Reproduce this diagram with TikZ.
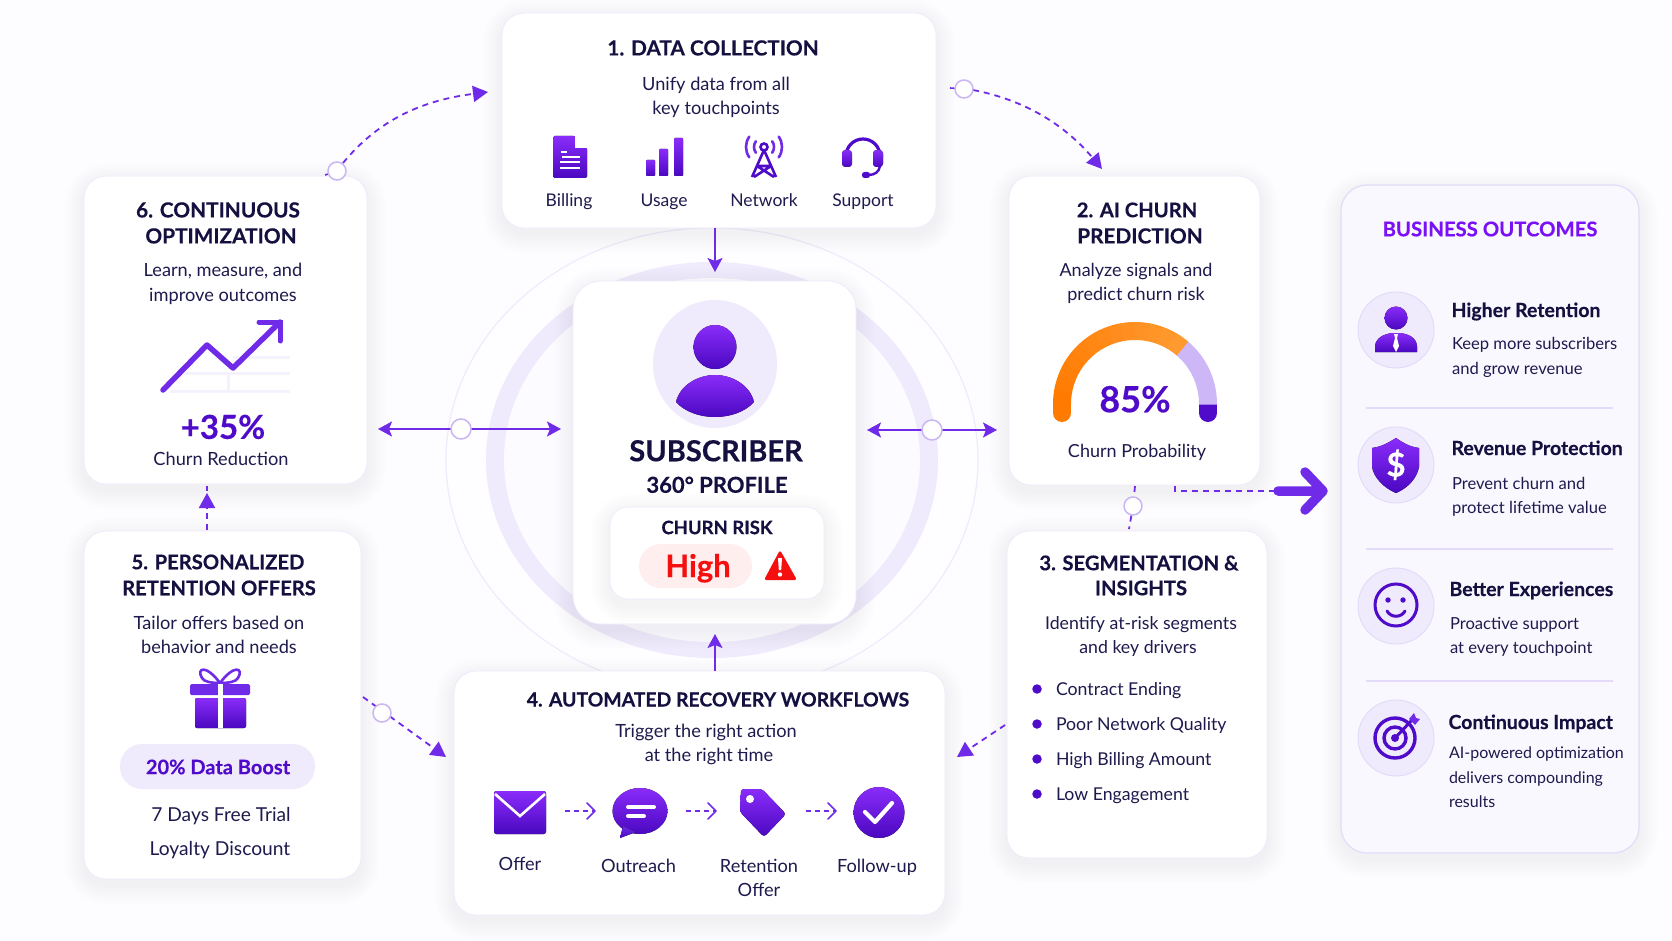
\documentclass[tikz,border=0pt]{standalone}
\usepackage{fontspec}
\setmainfont{Lato}[BoldFeatures={FakeBold=0.35}]
\usetikzlibrary{arrows.meta}
\definecolor{ink}{HTML}{14103F}
\definecolor{inkb}{HTML}{1E1A4E}
\definecolor{vio}{HTML}{6F2BE8}
\definecolor{deep}{HTML}{4F0BC9}
\definecolor{gtop}{HTML}{8A2CFA}
\definecolor{gbot}{HTML}{4A08C0}
\definecolor{lav}{HTML}{F0EBFC}
\definecolor{lavb}{HTML}{E3DBF9}
\definecolor{ringc}{HTML}{C9B6F2}
\definecolor{shad}{HTML}{4A30A8}
\definecolor{oraA}{HTML}{FF7A00}
\definecolor{oraB}{HTML}{FF9C33}
\definecolor{redc}{HTML}{F50F0F}
\definecolor{lavp}{HTML}{FAF8FF}
\definecolor{outc}{HTML}{7A10F5}
\newcounter{tc}
\newcommand\tx[4][]{\stepcounter{tc}\node[txt,#1] (t\arabic{tc}) at (#2,#3) {#4};}
\newcommand\softshadow[5]{\foreach \i in {1,...,12}{\fill[shad,opacity=.005,rounded corners=#5pt+\i*1.6pt] (#1-\i*1.6,#2-\i*1.6+6) rectangle (#3+\i*1.6,#4+\i*1.6+6);}}
\newcommand\cardbox[7][card]{\softshadow{#3}{#4}{#5}{#6}{#7}\node[#1,rounded corners=#7pt,minimum width={(#5-#3)*1pt},minimum height={(#6-#4)*1pt}] (#2) at ({(#3+#5)/2},{(#4+#6)/2}) {};}
\tikzset{
 txt/.style={inner sep=0pt,outer sep=0pt,text depth=0pt,text=inkb},
 ttl/.style={font=\bfseries\fontsize{20.2}{24}\selectfont,text height=14.5pt,text=ink},
 ttlb/.style={font=\bfseries\fontsize{20.8}{24}\selectfont,text height=14.9pt,text=ink},
 ttls/.style={font=\bfseries\fontsize{19.4}{24}\selectfont,text height=14pt,text=ink},
 bdy/.style={font=\fontsize{18.2}{22}\selectfont,text height=13.1pt},
 lst/.style={font=\fontsize{17.7}{22}\selectfont,text height=12.7pt},
 big/.style={font=\fontsize{19.2}{22}\selectfont,text height=13.8pt},
 sml/.style={font=\fontsize{17.5}{22}\selectfont,text height=12.6pt},
 lbl/.style={font=\fontsize{18.2}{22}\selectfont,text height=13.1pt},
 pan/.style={font=\fontsize{16.6}{22}\selectfont,text height=12pt},
 hd/.style={font=\bfseries\fontsize{19.5}{22}\selectfont,text height=14pt,text=ink},
 card/.style={draw=lav,line width=.8pt,fill=white,inner sep=0pt,outer sep=0pt},
 panel/.style={draw=lavb,line width=1.2pt,fill=lavp,inner sep=0pt,outer sep=0pt},
 hub/.style={circle,draw=ringc,line width=1.5pt,fill=white,inner sep=0pt,minimum size=18pt},
 solidarr/.style={draw=vio,line width=1.8pt},
 dasharr/.style={draw=vio,line width=1.8pt,dash pattern=on 6pt off 5pt},
 ghead/.style={top color=gtop,bottom color=gbot,draw=none},
 icobub/.style={circle,draw=lavb,line width=1pt,fill=lav,inner sep=0pt,minimum size=76pt},
}
\begin{document}
\begin{tikzpicture}[x=1pt,y=-1pt,
 stl/.tip={Stealth[length=14pt,width=15pt,inset=3pt]},
 tri/.tip={Triangle[length=15pt,width=16pt]}]
\useasboundingbox (0,0) rectangle (1672,941);
\fill[white!60!lavp] (0,0) rectangle (1672,941);
% rings
\draw[lav,line width=1.2pt,fill=white!70!lavp] (712,460) ellipse [x radius=266,y radius=232];
\fill[lav] (712,460) ellipse [x radius=226,y radius=198];
\fill[white!40!lavp] (712,460) ellipse [x radius=208,y radius=182];
% cards
\cardbox{c1}{502}{13}{936}{228}{22}
\cardbox{c6}{84}{176}{367}{484}{22}
\cardbox{c2}{1009}{176}{1260}{485}{22}
\cardbox{c5}{84}{531}{361}{879}{22}
\cardbox{c3}{1007}{531}{1267}{858}{22}
\cardbox{c4}{454}{671}{945}{915}{22}
\cardbox{cc}{573}{281}{856}{624}{28}
\cardbox[panel]{bo}{1341}{185}{1639}{853}{26}
% ---- connectors
\coordinate (a1s) at (715,228); \coordinate (a1e) at (715,272);
\draw[solidarr,-{stl}] (a1s) -- (a1e);
\coordinate (a4s) at (715,671); \coordinate (a4e) at (715,634);
\draw[solidarr,-{stl}] (a4s) -- (a4e);
\coordinate (lL) at (378,429); \coordinate (lR) at (561,429);
\draw[solidarr,{stl}-{stl}] (lL) -- (lR);
\node[hub,minimum size=20pt] (hl) at (461,429) {};
\coordinate (rL) at (867,430); \coordinate (rR) at (997,430);
\draw[solidarr,{stl}-{stl}] (rL) -- (rR);
\node[hub,minimum size=20pt] (hr) at (932,430) {};
% 6->1
\coordinate (a6s) at (343,163); \coordinate (a6e) at (488,92);
\coordinate (a6x) at (325,175);
\draw[dasharr,-{tri}] (a6s) .. controls (380,118) and (425,100) .. (a6e);
\node[hub] (h6) at (337,171) {};
\draw[vio,line width=1.6pt] (a6x) -- (h6);
% 1->2
\coordinate (a1a) at (973,90); \coordinate (a1b) at (1102,169); \coordinate (a1c) at (950,88);
\draw[dasharr,-{tri}] (a1a) .. controls (1025,100) and (1065,125) .. (a1b);
\node[hub] (h1) at (964,89) {};
\draw[vio,line width=1.6pt] (a1c) -- (h1);
% 2->3
\coordinate (a2s) at (1135,486); \coordinate (a2e) at (1129,529);
\node[hub] (h2) at (1133,506) {};
\draw[dasharr] (a2s) -- (h2);
\draw[dasharr] (h2) -- (a2e);
% 3->4
\coordinate (a3s) at (1005,725); \coordinate (a3e) at (957,757);
\draw[dasharr,-{tri}] (a3s) -- (a3e);
% 4<-5
\coordinate (a5s) at (363,697); \coordinate (a5e) at (446,757);
\draw[dasharr,-{tri}] (a5s) -- (a5e);
\node[hub] (h5) at (382,713) {};
% 5->6
\coordinate (a56s) at (207,530); \coordinate (a56e) at (207,493); \coordinate (a56x) at (207,486);
\draw[dasharr,-{tri}] (a56s) -- (a56e);
\draw[vio,line width=1.8pt] (a56x) -- +(0,5);
% 2 -> outcomes
\coordinate (a7s) at (1175,486); \coordinate (a7m) at (1278,491); \coordinate (a7e) at (1323,491);
\draw[dasharr] (a7s) |- (a7m);
\draw[vio,line width=9.5pt,line cap=round,line join=round] (a7m) -- (a7e) (1305,472) -- (a7e) -- (1305,510);
% ---- card 1
\tx[ttlb]{713}{48}{1. DATA COLLECTION}
\tx[bdy]{716}{83.5}{Unify data from all}
\tx[bdy]{716}{108}{key touchpoints}
% billing
\fill[ghead,rounded corners=1.5pt] (553,136) -- (575,136) -- (587,148) -- (587,178) -- (553,178) -- cycle;
\fill[white] (575,136) -- (575,146) .. controls (575,148) .. (577,148) -- (587,148) -- (587,146) -- (577,136) -- cycle;
\draw[white,line width=2pt] (561,152) -- (567,152) (562,157) -- (580,157) (560,162) -- (580,162) (560,168) -- (580,168);
% usage
\fill[ghead,rounded corners=1pt] (646,160) rectangle (655,176);
\fill[ghead,rounded corners=1pt] (659,149) rectangle (668,176);
\fill[ghead,rounded corners=1pt] (674,138) rectangle (683,176);
% network
\draw[deep,line width=2.6pt,line join=round] (764,150) -- (752,177) (764,150) -- (776,177) (757,166) -- (771,166) -- (754,177) (757,166) -- (774,177);
\draw[deep,line width=2.6pt] (764,147) circle[radius=3.5];
\begin{scope}[shift={(764,147)},y=1pt]
\draw[vio,line width=2.6pt,line cap=round] (-35:10) arc[start angle=-35,end angle=35,radius=10];
\draw[vio,line width=2.6pt,line cap=round] (145:10) arc[start angle=145,end angle=215,radius=10];
\draw[vio,line width=2.6pt,line cap=round] (-35:18) arc[start angle=-35,end angle=35,radius=18];
\draw[vio,line width=2.6pt,line cap=round] (145:18) arc[start angle=145,end angle=215,radius=18];
\end{scope}
% support
\begin{scope}[shift={(863,156)},y=1pt]
\draw[deep,line width=3.2pt] (-17,-2) -- (-17,0) arc[start angle=180,end angle=0,radius=17] -- (17,-2);
\end{scope}
\fill[ghead,rounded corners=3.5pt] (842,150) rectangle (852,167);
\fill[ghead,rounded corners=3.5pt] (873,150) rectangle (883,167);
\draw[deep,line width=2.4pt] (880,166) .. controls (879,172) and (875,175) .. (868,175);
\fill[deep,rounded corners=2.5pt] (862,172) rectangle (870,178);
\tx[sml]{569}{200.5}{Billing}
\tx[sml]{664}{200.5}{Usage}
\tx[sml]{764}{200.5}{Network}
\tx[sml]{863}{200.5}{Support}
% ---- card 6
\tx[ttlb]{218}{210}{6. CONTINUOUS}
\tx[ttlb]{221}{236}{OPTIMIZATION}
\tx[bdy]{223}{270}{Learn, measure, and}
\tx[bdy]{223}{295}{improve outcomes}
\draw[lav!70!white,line width=3pt] (233,357) -- (290,357) (183,373) -- (290,373) (170,391) -- (290,391) (228,373) -- (228,391);
\draw[vio,line width=5.5pt,line cap=round,line join=round] (163,390) -- (207,345) -- (233,368) -- (280,322);
\draw[vio,line width=5pt,line cap=round,line join=miter] (259,322) -- (280,322) -- (280,341);
\tx[font=\bfseries\fontsize{33}{38}\selectfont,text height=23.7pt,text=deep]{223}{427}{+35\%}
\tx[bdy]{221}{458.5}{Churn Reduction}
% ---- centre
\fill[lav] (715,364) ellipse [x radius=62,y radius=64];
\fill[ghead] (715,347) ellipse [x radius=21.5,y radius=22];
\fill[ghead] (676,402) .. controls (680,385) and (698,375) .. (715,375) .. controls (732,375) and (750,385) .. (754,402) .. controls (745,412) and (730,417) .. (715,417) .. controls (700,417) and (685,412) .. (676,402) -- cycle;
\tx[font=\bfseries\fontsize{29}{32}\selectfont,text height=20.5pt,text=ink]{716}{451}{SUBSCRIBER}
\tx[font=\bfseries\fontsize{22}{26}\selectfont,text height=15.6pt,text=ink]{717}{485}{360° PROFILE}
\cardbox{cr}{610}{507}{824}{599}{18}
\tx[font=\fontsize{18.5}{22}\selectfont,text height=13.3pt,text=ink]{717}{527.5}{\bfseries CHURN RISK}
\node[rounded corners=22pt,fill=redc!7,inner sep=0pt,minimum width=113pt,minimum height=44pt] (pl) at (695.5,566) {};
\tx[font=\bfseries\fontsize{31}{34}\selectfont,text height=22pt,text=redc]{698}{566}{High}
\fill[redc,rounded corners=2.5pt] (780,550) -- (797,580) -- (764,580) -- cycle;
\fill[white] (778,558) -- (782,558) -- (781.2,570) -- (778.8,570) -- cycle;
\fill[white] (780,574.5) circle[radius=2.2];
% ---- card 2
\tx[ttl]{1137}{210}{2. AI CHURN}
\tx[ttlb]{1140}{236}{PREDICTION}
\tx[font=\fontsize{18}{22}\selectfont,text height=13pt]{1136}{270}{Analyze signals and}
\tx[font=\fontsize{18}{22}\selectfont,text height=13pt]{1136}{294}{predict churn risk}
\begin{scope}[shift={(1135,404)},y=1pt]
\draw[oraA,line width=18pt,line cap=round] (-73,0) -- (-73,-9);
\draw[deep,line width=18pt,line cap=round] (73,0) -- (73,-9);
\draw[white!25!vio!45!white,line width=18pt] (50:73) arc[start angle=50,end angle=0,radius=73] -- (73,-.5);
\foreach \a in {180,170,...,60}{
 \pgfmathtruncatemacro\p{100-(180-\a)*100/130}
 \draw[oraA!\p!oraB,line width=18pt] (\a:73) arc[start angle=\a,end angle={\a-10.6},radius=73];}
\end{scope}
\tx[font=\bfseries\fontsize{36}{40}\selectfont,text height=25.5pt,text=deep]{1135}{399.5}{85\%}
\tx[font=\fontsize{18}{22}\selectfont,text height=13pt]{1137}{450.5}{Churn Probability}
% ---- card 3
\tx[ttl]{1139}{563}{3. SEGMENTATION \&}
\tx[ttl]{1141}{588}{INSIGHTS}
\tx[lst]{1141}{623}{Identify at-risk segments}
\tx[lst]{1138}{647}{and key drivers}
\foreach \yy/\nn in {689/b1,724/b2,759/b3,794/b4}{\node[circle,fill=deep,inner sep=0pt,minimum size=9.5pt] (\nn) at (1037,\yy) {};}
\tx[lst,anchor=west]{1056}{689.5}{Contract Ending}
\tx[lst,anchor=west]{1056}{724.5}{Poor Network Quality}
\tx[lst,anchor=west]{1056}{759.5}{High Billing Amount}
\tx[lst,anchor=west]{1056}{794.5}{Low Engagement}
% ---- card 4
\tx[ttls]{718}{699.5}{4. AUTOMATED RECOVERY WORKFLOWS}
\tx[bdy]{706}{731}{Trigger the right action}
\tx[bdy]{709}{755}{at the right time}
% envelope
\fill[ghead,rounded corners=2.5pt] (494,791) rectangle (546,834);
\draw[white,line width=2.6pt] (495,794) -- (520,816) -- (545,794);
% bubble
\fill[ghead] (640,811) ellipse [x radius=27.5,y radius=23];
\fill[top color=vio,bottom color=gbot] (623,826) -- (620,838) -- (636,832) -- cycle;
\draw[white,line width=4pt,line cap=round] (628,807) -- (654,807) (628,816) -- (644,816);
% tag
\fill[ghead,rounded corners=3pt] (741,789) -- (762,789) -- (786,814) -- (764,837) -- (740,812) -- cycle;
\fill[white] (750,799) circle[radius=4];
% check
\fill[ghead] (879,812.5) circle[radius=25.5];
\draw[white,line width=4.2pt,line cap=round,line join=round] (865,812) -- (875,822) -- (892,803);
\foreach \xa/\xb/\nm in {565/595/q1,686/716/q2,806/836/q3}{
 \coordinate (\nm a) at (\xa,811); \coordinate (\nm b) at (\xb,811);
 \draw[vio,line width=1.6pt,dash pattern=on 5pt off 4pt] (\nm a) -- (\nm b);
 \draw[vio,line width=1.6pt,line cap=round,line join=round] (\xb-8,803) -- (\nm b) -- (\xb-8,819);}
\tx[lbl]{520}{864}{Offer}
\tx[lbl]{638.5}{866}{Outreach}
\tx[lbl]{759}{866}{Retention}
\tx[lbl]{759}{890}{Offer}
\tx[lbl]{877}{866}{Follow-up}
% ---- card 5
\tx[ttl]{218}{562}{5. PERSONALIZED}
\tx[ttl]{219}{588}{RETENTION OFFERS}
\tx[bdy]{219}{623}{Tailor offers based on}
\tx[bdy]{219}{647}{behavior and needs}
\draw[vio,line width=2.6pt] (220,683) .. controls (206,664) and (196,668) .. (202,678) .. controls (204,682) and (212,683) .. (220,683) .. controls (234,664) and (244,668) .. (238,678) .. controls (236,682) and (228,683) .. (220,683);
\fill[vio,rounded corners=1.5pt] (190,684) rectangle (250,695);
\fill[ghead,rounded corners=2pt] (195,698) rectangle (246,728);
\fill[white] (218,684) rectangle (223,728);
\node[rounded corners=22pt,fill=lav,inner sep=0pt,minimum width=195pt,minimum height=45pt] (pb) at (217.5,766.5) {};
\tx[font=\bfseries\fontsize{20}{24}\selectfont,text height=14.4pt,text=deep]{218}{767}{20\% Data Boost}
\tx[big]{221}{815}{7 Days Free Trial}
\tx[big]{220}{849}{Loyalty Discount}
% ---- outcomes
\tx[font=\bfseries\fontsize{20.3}{24}\selectfont,text height=14.7pt,text=outc]{1490}{229}{BUSINESS OUTCOMES}
\foreach \yy/\nn in {330/i1,465/i2,606/i3,738/i4}{\node[icobub] (\nn) at (1396,\yy) {};}
\foreach \yy/\nn in {408/s1,549/s2,681/s3}{\coordinate (\nn a) at (1366,\yy); \coordinate (\nn b) at (1613,\yy); \draw[lavb,line width=1.2pt] (\nn a) -- (\nn b);}
% person tie
\fill[ghead] (1396,318) circle[radius=11.5];
\fill[ghead] (1375,352) -- (1375,346) .. controls (1376,337) and (1385,334) .. (1392,333) -- (1400,333) .. controls (1408,334) and (1416,337) .. (1417,346) -- (1417,352) -- cycle;
\fill[white] (1394,334) -- (1398,334) -- (1397,338) -- (1399,346) -- (1396,352) -- (1393,346) -- (1395,338) -- cycle;
% shield
\fill[ghead] (1396,438) .. controls (1385,445) and (1379,447) .. (1372,448) -- (1372,467) .. controls (1374,478) and (1384,488) .. (1396,493) .. controls (1408,488) and (1417,478) .. (1419,467) -- (1419,448) .. controls (1412,447) and (1406,445) .. (1396,438) -- cycle;
\tx[font=\bfseries\fontsize{33}{36}\selectfont,text height=23pt,text=white]{1396}{465}{\$}
% smile
\draw[deep,line width=3pt] (1396,605) circle[radius=21];
\fill[deep] (1388,600) circle[radius=2.7] (1403,600) circle[radius=2.7];
\draw[deep,line width=3pt,line cap=round] (1387,611) .. controls (1391,618) and (1401,618) .. (1405,611);
% target
\draw[deep,line width=3.4pt] (1395,738) circle[radius=20];
\draw[deep,line width=3.4pt] (1395,738) circle[radius=11];
\fill[deep] (1395,738) circle[radius=4];
\draw[deep,line width=3pt] (1395,738) -- (1412,720);
\fill[vio] (1409,719) -- (1414,713) -- (1416,718) -- (1420,719) -- (1415,725) -- cycle;
\tx[hd,anchor=west]{1451.5}{310}{Higher Retention}
\tx[pan,anchor=west]{1452}{343}{Keep more subscribers}
\tx[pan,anchor=west]{1452}{368}{and grow revenue}
\tx[hd,anchor=west]{1451.5}{448}{Revenue Protection}
\tx[pan,anchor=west]{1452}{483}{Prevent churn and}
\tx[pan,anchor=west]{1452}{507}{protect lifetime value}
\tx[hd,anchor=west]{1449.5}{589}{Better Experiences}
\tx[pan,anchor=west]{1450}{623}{Proactive support}
\tx[pan,anchor=west]{1450}{647}{at every touchpoint}
\tx[hd,anchor=west]{1448.5}{722}{Continuous Impact}
\tx[font=\fontsize{16}{22}\selectfont,text height=11.6pt,anchor=west]{1449}{753}{AI-powered optimization}
\tx[font=\fontsize{16}{22}\selectfont,text height=11.6pt,anchor=west]{1449}{778}{delivers compounding}
\tx[font=\fontsize{16}{22}\selectfont,text height=11.6pt,anchor=west]{1449}{802}{results}
\end{tikzpicture}
\end{document}
